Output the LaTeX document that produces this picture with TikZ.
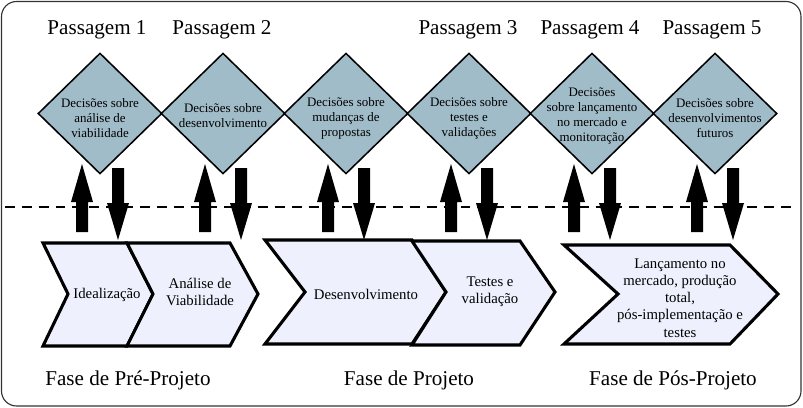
\documentclass[tikz,border=0pt]{standalone}
\usepackage{fontspec}
\setmainfont{Liberation Serif}
\usepackage{tikz}
\usetikzlibrary{shapes.geometric}
\usetikzlibrary{positioning}
\definecolor{decisionblue}{RGB}{161,188,201}
\definecolor{stagefill}{RGB}{238,241,253}

\begin{document}
\begin{tikzpicture}[x=0.025cm, y=-0.025cm,
    decision/.style = {diamond, draw, line width=1.1pt, fill=decisionblue,
        minimum width=3.1cm, minimum height=3.02cm, inner sep=0pt},
    decision text/.style = {align=center, inner sep=0pt, font=\fontsize{9.2}{10.6}\selectfont},
    passage/.style = {anchor=base, inner sep=0pt, font=\fontsize{15}{18}\selectfont},
    phase label/.style = {anchor=base, inner sep=0pt, font=\fontsize{15}{18}\selectfont},
    stage/.style = {draw, line width=2.2pt, fill=stagefill, line join=miter},
    stage text/.style = {align=center, inner sep=0pt, font=\fontsize{10.5}{12.2}\selectfont},
    block arrow/.style = {fill=black}]
    \useasboundingbox (0,0) rectangle (803,408);
    \draw[rounded corners=0.375cm, line width=0.8pt, draw=black!80] (1.5,1.5) rectangle (801,406);

    % passagens
    \node [passage] (p1) at (97,34) {Passagem 1};
    \node [passage] (p2) at (222,34) {Passagem 2};
    \node [passage] (p3) at (468,34) {Passagem 3};
    \node [passage] (p4) at (590,34) {Passagem 4};
    \node [passage] (p5) at (712,34) {Passagem 5};

    % decisoes
    \node [decision] (d1) at (100,113.5) {};
    \node [decision] (d2) at (223,113.5) {};
    \node [decision] (d3) at (346,113.5) {};
    \node [decision] (d4) at (469,113.5) {};
    \node [decision] (d5) at (592,113.5) {};
    \node [decision] (d6) at (715,113.5) {};
    \node [decision text] (d1t) at (100,118) {Decisões sobre\\análise de\\viabilidade};
    \node [decision text] (d2t) at (223,116) {Decisões sobre\\desenvolvimento};
    \node [decision text] (d3t) at (346,118) {Decisões sobre\\mudanças de\\propostas};
    \node [decision text] (d4t) at (469,118) {Decisões sobre\\testes e\\validações};
    \node [decision text] (d5t) at (592,116) {Decisões\\sobre lançamento\\no mercado e\\monitoração};
    \node [decision text] (d6t) at (715,118) {Decisões sobre\\desenvolvimentos\\futuros};

    % linha tracejada
    \coordinate (left) at (5,207);
    \coordinate (right) at (798,207);
    \draw [dash pattern=on 7pt off 5pt, line width=2.1pt] (left) -- (right);

    % setas
    \foreach \c in {100,223,346,469,592,715}{
        \fill [block arrow] ({\c-24},232) -- ({\c-24},202) -- ({\c-29},202) -- ({\c-18},164)
            -- ({\c-7},202) -- ({\c-12},202) -- ({\c-12},232) -- cycle;
        \fill [block arrow] ({\c+12},168) -- ({\c+24},168) -- ({\c+24},203) -- ({\c+29},203)
            -- ({\c+18},240) -- ({\c+7},203) -- ({\c+12},203) -- cycle;
    }

    % etapas
    \draw [stage] (43,243) -- (127,243) -- (153,294) -- (127,346) -- (43,346) -- (68,294) -- cycle;
    \draw [stage] (127,243) -- (230,243) -- (258,294) -- (230,346) -- (127,346) -- (153,294) -- cycle;
    \draw [stage] (265,240) -- (412,240) -- (446,292) -- (412,344) -- (265,344) -- (305,292) -- cycle;
    \draw [stage] (412,241) -- (520,241) -- (555,292) -- (520,345) -- (412,345) -- (446,292) -- cycle;
    \draw [stage] (564,245) -- (730,245) -- (778,294) -- (730,344) -- (564,344) -- (618,294) -- cycle;
    \node [stage text] (s1) at (107,295) {Idealização};
    \node [stage text] (s2) at (200,292) {Análise de\\Viabilidade};
    \node [stage text] (s3) at (366,294) {Desenvolvimento};
    \node [stage text] (s4) at (490,292) {Testes e\\validação};
    \node [stage text] (s5) at (680,298) {Lançamento no\\mercado, produção\\total,\\pós-implementação e\\testes};

    % fases
    \node [phase label] (f1) at (128,385) {Fase de Pré-Projeto};
    \node [phase label] (f2) at (409,385) {Fase de Projeto};
    \node [phase label] (f3) at (673,385) {Fase de Pós-Projeto};
\end{tikzpicture}
\end{document}
